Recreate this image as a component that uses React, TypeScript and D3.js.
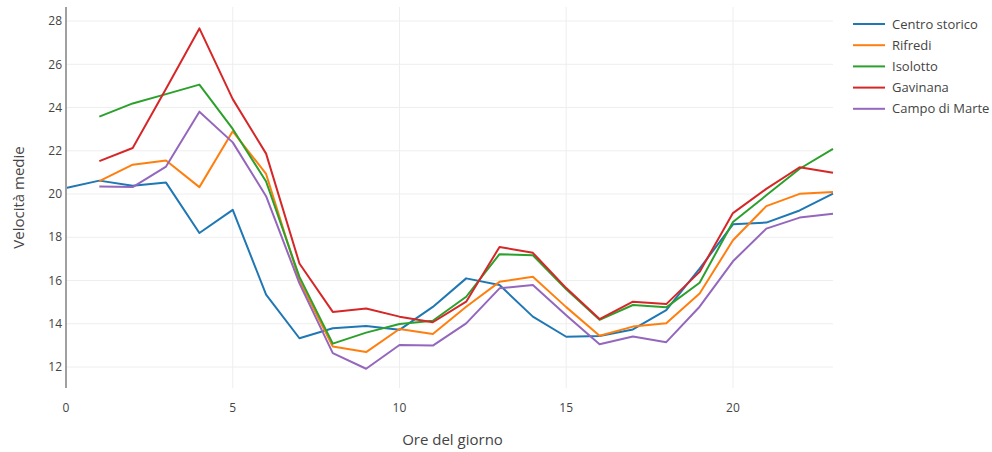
import React from "react";
import * as d3 from "d3";

const hours = d3.range(0, 24);
const seriesNames = ["Centro storico", "Rifredi", "Isolotto", "Gavinana", "Campo di Marte"];
const seriesColors = ["#1f77b4", "#ff7f0e", "#2ca02c", "#d62728", "#9467bd"];

const centroStorico = [20.28, 20.62, 20.38, 20.53, 18.2, 19.27, 15.35, 13.33, 13.79, 13.9, 13.72, 14.78, 16.1, 15.79, 14.33, 13.4, 13.43, 13.74, 14.63, 16.55, 18.6, 18.68, 19.24, 20.02];
const rifredi = [null, 20.6, 21.36, 21.55, 20.32, 22.9, 20.93, 16.0, 12.95, 12.69, 13.76, 13.53, 14.79, 15.94, 16.17, 14.77, 13.45, 13.87, 14.02, 15.4, 17.86, 19.44, 20.01, 20.1];
const isolotto = [null, 23.58, 24.19, 24.62, 25.06, 23.01, 20.58, 16.17, 13.08, 13.59, 13.99, 14.14, 15.25, 17.22, 17.17, 15.6, 14.18, 14.87, 14.76, 15.9, 18.71, 19.94, 21.17, 22.09];
const gavinana = [null, 21.52, 22.13, 24.87, 27.66, 24.39, 21.87, 16.79, 14.55, 14.71, 14.33, 14.07, 15.02, 17.55, 17.28, 15.65, 14.22, 15.02, 14.91, 16.4, 19.12, 20.24, 21.24, 20.98];
const campoDiMarte = [null, 20.35, 20.32, 21.27, 23.81, 22.39, 19.9, 15.87, 12.64, 11.92, 13.02, 12.99, 14.02, 15.64, 15.79, 14.39, 13.05, 13.41, 13.15, 14.79, 16.89, 18.4, 18.91, 19.09];

const xTicks = [0, 5, 10, 15, 20];
const yTicks = [12, 14, 16, 18, 20, 22, 24, 26, 28];
const xTitle = "Ore del giorno";
const yTitle = "Velocità medie";

const allSeries = [centroStorico, rifredi, isolotto, gavinana, campoDiMarte];

export default function App() {
  const W = 992, H = 452;
  const left = 66, right = 833, top = 7, bottom = 388;
  const x = d3.scaleLinear().domain([0, 23]).range([left, right]);
  const y = d3.scaleLinear().domain([11.03, 28.65]).range([bottom, top]);
  const line = d3
    .line<number | null>()
    .defined((d) => d != null)
    .x((_, i) => x(hours[i]))
    .y((d) => y(d as number));
  const font = "'Open Sans', 'Noto Sans', sans-serif";
  return (
    <svg
      width={W}
      height={H}
      style={{ position: "absolute", left: 0, top: 0, background: "#fff" }}
      fontFamily={font}
    >
      {yTicks.map((t) => (
        <line key={"gy" + t} x1={left} x2={right} y1={y(t)} y2={y(t)} stroke="#eeeeee" strokeWidth={1} />
      ))}
      {xTicks.filter((t) => t !== 0).map((t) => (
        <line key={"gx" + t} x1={x(t)} x2={x(t)} y1={top} y2={bottom} stroke="#eeeeee" strokeWidth={1} />
      ))}
      {allSeries.map((s, i) => (
        <path
          key={seriesNames[i]}
          d={line(s) || ""}
          fill="none"
          stroke={seriesColors[i]}
          strokeWidth={2}
          strokeLinejoin="round"
        />
      ))}
      <line x1={left} x2={left} y1={top} y2={bottom} stroke="#a0a0a0" strokeWidth={2} />
      {yTicks.map((t) => (
        <text key={"ty" + t} x={left - 4} y={y(t)} dy="0.35em" textAnchor="end" fontSize={12} fill="#444">
          {t}
        </text>
      ))}
      {xTicks.map((t) => (
        <text key={"tx" + t} x={x(t)} y={bottom + 20} dy="0.35em" textAnchor="middle" fontSize={12} fill="#444">
          {t}
        </text>
      ))}
      <text x={(left + right) / 2 + 3} y={440} dy="0.35em" textAnchor="middle" fontSize={15} fill="#444">
        {xTitle}
      </text>
      <text
        transform={`translate(19,${(top + bottom) / 2}) rotate(-90)`}
        dy="0.35em"
        textAnchor="middle"
        fontSize={15}
        fill="#444"
      >
        {yTitle}
      </text>
      {seriesNames.map((n, i) => (
        <g key={"lg" + n} transform={`translate(853,${24 + i * 21.2})`}>
          <line x1={0} x2={32} y1={0} y2={0} stroke={seriesColors[i]} strokeWidth={2} />
          <text x={39} y={0} dy="0.35em" fontSize={13} fill="#444">
            {n}
          </text>
        </g>
      ))}
    </svg>
  );
}
